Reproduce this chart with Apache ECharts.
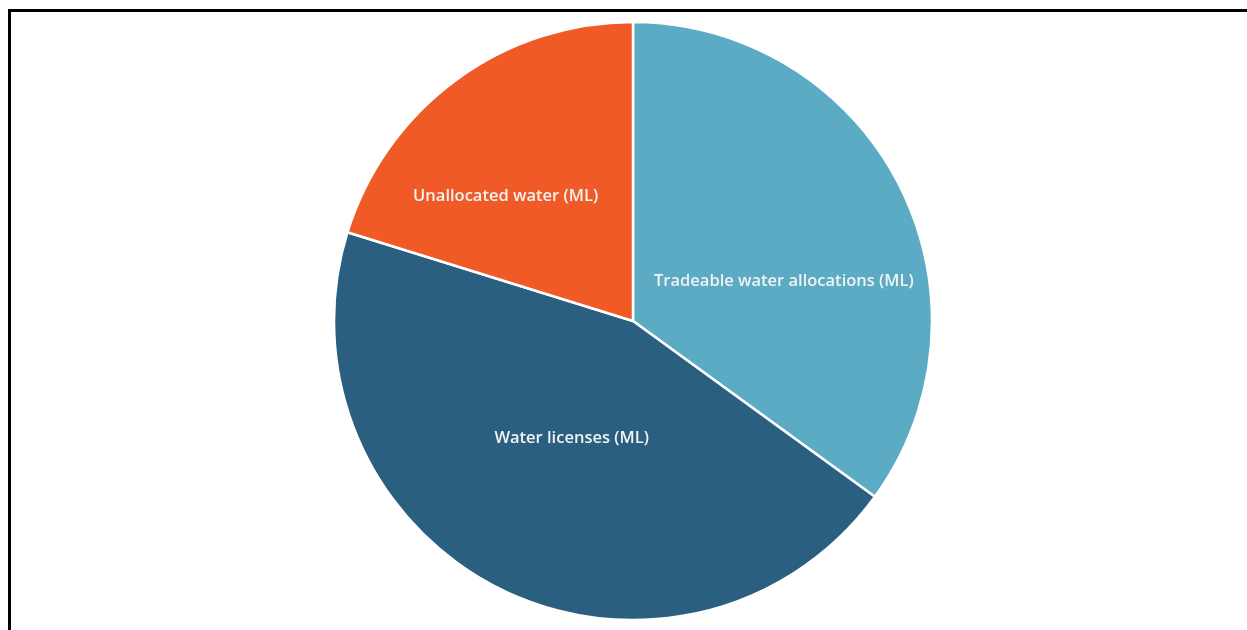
<!DOCTYPE html>
<html>
<head>
<meta charset="utf-8">
<script src="https://cdn.jsdelivr.net/npm/echarts@6/dist/echarts.min.js"></script>
<style>
  html, body { margin: 0; padding: 0; background: #fff; overflow: hidden; }
  #frame { position: absolute; left: 8px; top: 9px; width: 1260px; height: 640px; border: 3px solid #000; box-sizing: border-box; }
  #chart { position: absolute; left: 0; top: 0; width: 1247px; height: 630px; }
</style>
</head>
<body>
<div id="frame"></div>
<div id="chart"></div>
<script>
const categories = ['Tradeable water allocations (ML)', 'Water licenses (ML)', 'Unallocated water (ML)'];
const values = [35, 44.8, 20.2];
const colors = ['#5BABC5', '#2A5F80', '#F05A26'];
const labelOffsets = [[15, 30], [7, -19], [-37, -2]];

const chart = echarts.init(document.getElementById('chart'), null, { renderer: 'canvas' });
chart.setOption({
  animation: false,
  series: [{
    type: 'pie',
    center: [633, 321],
    radius: 299,
    startAngle: 90,
    clockwise: true,
    avoidLabelOverlap: false,
    itemStyle: { borderColor: '#ffffff', borderWidth: 2.5 },
    label: {
      show: true,
      position: 'inside',
      color: '#f2f2f2',
      fontFamily: 'Open Sans',
      fontWeight: 600,
      fontSize: 16.5
    },
    labelLine: { show: false },
    data: categories.map((c, i) => ({
      name: c,
      value: values[i],
      itemStyle: { color: colors[i] },
      label: { offset: labelOffsets[i] }
    }))
  }]
});
</script>
</body>
</html>
